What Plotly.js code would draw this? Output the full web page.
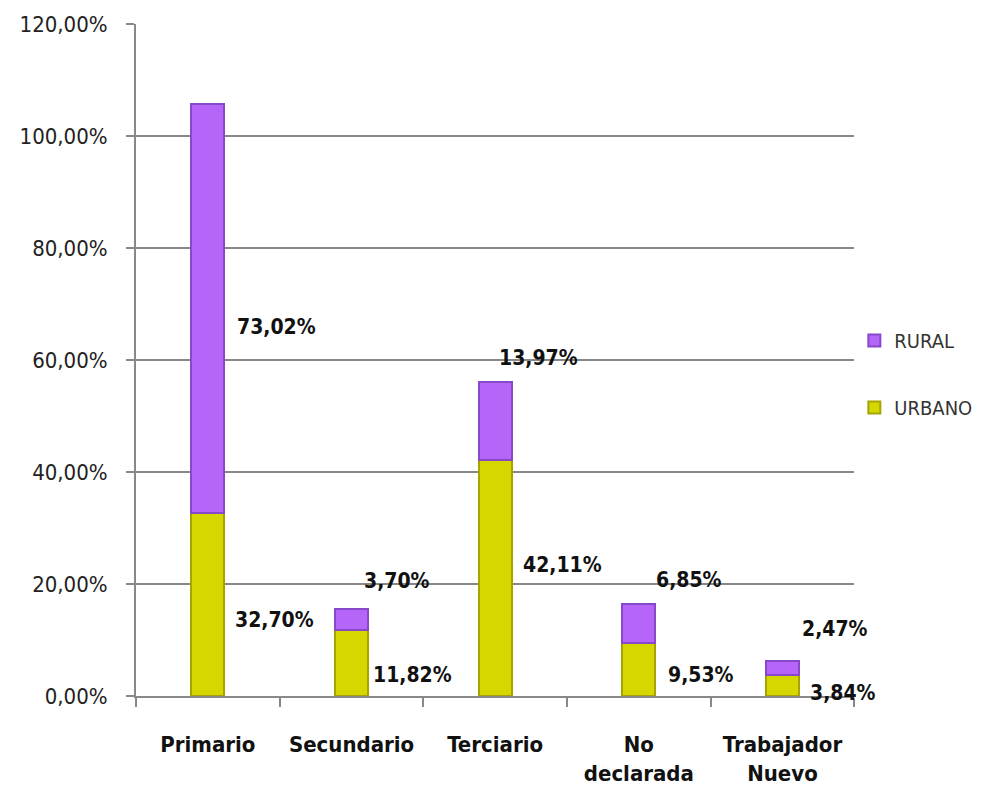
<!DOCTYPE html>
<html>
<head>
<meta charset="utf-8">
<script src="https://cdn.plot.ly/plotly-3.0.1.min.js"></script>
<style>html,body{margin:0;padding:0;background:#fff;}#chart{width:982px;height:796px;}</style>
</head>
<body>
<div id="chart"></div>
<script>
const categories = ["Primario", "Secundario", "Terciario", "No<br>declarada", "Trabajador<br>Nuevo"];
const urbano = [32.70, 11.82, 42.11, 9.53, 3.84];
const rural = [73.02, 3.70, 13.97, 6.85, 2.47];
const yTickVals = [0, 20, 40, 60, 80, 100, 120];
const yTickText = ["0,00%", "20,00%", "40,00%", "60,00%", "80,00%", "100,00%", "120,00%"];

// label offsets (pixels) relative to segment middles
const ruralShift = [[69, -19], [45, 38], [43, 63], [50, 43], [52, 39]];
const urbanoShift = [[67, -16], [61, -12], [67, 13], [62, -6], [60, -8]];

const fmt = v => v.toFixed(2).replace('.', ',') + '%';
const FONT = '"DejaVu Sans Condensed", "Liberation Sans Narrow", sans-serif';

const traces = [
  {
    type: 'bar', name: 'URBANO', x: categories, y: urbano, legendgroup: 'u', legendrank: 2,
    marker: {color: '#d6d600', line: {color: '#a5a500', width: 2}},
    hoverinfo: 'none'
  },
  {
    type: 'bar', name: 'RURAL', x: categories, y: rural, legendgroup: 'r', legendrank: 1,
    marker: {color: '#b565f8', line: {color: '#8748c9', width: 2}},
    hoverinfo: 'none'
  }
];

const annotations = [];
categories.forEach((c, i) => {
  annotations.push({
    x: c, y: urbano[i] + rural[i] / 2, xref: 'x', yref: 'y',
    text: '<b>' + fmt(rural[i]) + '</b>', showarrow: false,
    xshift: ruralShift[i][0], yshift: ruralShift[i][1],
    font: {family: FONT, size: 21, color: '#111'}
  });
  annotations.push({
    x: c, y: urbano[i] / 2, xref: 'x', yref: 'y',
    text: '<b>' + fmt(urbano[i]) + '</b>', showarrow: false,
    xshift: urbanoShift[i][0], yshift: urbanoShift[i][1],
    font: {family: FONT, size: 21, color: '#111'}
  });
});

const layout = {
  width: 982, height: 796,
  margin: {l: 136, r: 126, t: 24, b: 100},
  paper_bgcolor: '#fff', plot_bgcolor: '#fff',
  barmode: 'stack', bargap: 0.77,
  showlegend: true,
  legend: {
    xref: 'container', yref: 'container',
    x: 0.870, y: 0.53, xanchor: 'left', yanchor: 'middle',
    traceorder: 'grouped', tracegroupgap: 38,
    font: {family: FONT, size: 20, color: '#333'},
    itemwidth: 30
  },
  font: {family: FONT, size: 20, color: '#333'},
  xaxis: {
    type: 'category', range: [-0.5, 4.5], tickson: 'boundaries', ticks: 'outside', ticklen: 9,
    tickcolor: '#888', tickwidth: 2,
    showline: true, linecolor: '#888', linewidth: 2,
    showgrid: false,
    tickfont: {family: FONT, size: 22, color: '#111', weight: 'bold'},
    ticklabelstandoff: 28,
    tickangle: 0
  },
  yaxis: {
    range: [0, 120], tickvals: yTickVals, ticktext: yTickText,
    showgrid: true, gridcolor: '#888', gridwidth: 2,
    showline: true, linecolor: '#888', linewidth: 2,
    ticks: 'outside', ticklen: 8, tickcolor: '#888', tickwidth: 2,
    zeroline: false,
    ticklabelstandoff: 14,
    tickfont: {family: FONT, size: 22, color: '#222'}
  },
  annotations: annotations
};

Plotly.newPlot('chart', traces, layout, {displayModeBar: false, staticPlot: true});
</script>
</body>
</html>
